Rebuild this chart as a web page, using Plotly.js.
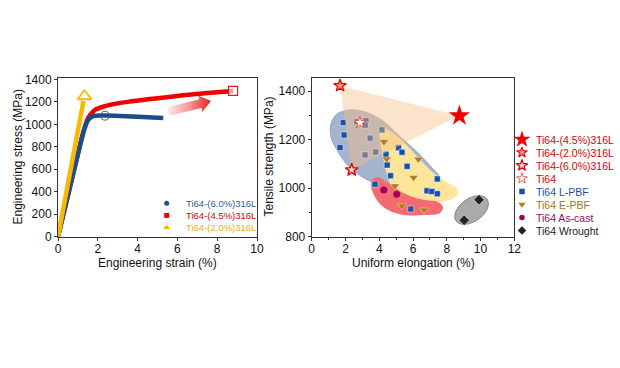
<!DOCTYPE html>
<html><head><meta charset="utf-8">
<script src="https://cdn.plot.ly/plotly-3.0.1.min.js"></script>
<style>html,body{margin:0;padding:0;background:#fff}#chart{width:620px;height:368px}</style>
</head><body><div id="chart"></div>
<script>
// ---------- Left panel: engineering stress-strain curves ----------
const strain60 = [0, 1.0, 1.2, 1.36, 1.52, 1.7, 1.86, 2.36, 2.86, 4.0, 5.29];
const stress60 = [0, 735, 875, 975, 1040, 1068, 1076, 1078, 1076, 1067, 1056];
const strain45 = [0, 1.0, 1.15, 1.3, 1.45, 1.6, 1.86, 2.36, 2.86, 3.5, 4.87, 6.55, 7.5, 8.8];
const stress45 = [0, 735, 850, 950, 1030, 1080, 1128, 1162, 1182, 1200, 1230, 1264, 1279, 1297];
const strain20 = [0, 1.28];
const stress20 = [0, 1208];
// uniform elongation end markers
const endStrain = [2.36, 8.8, 1.33];
const endStress = [1077, 1297, 1250];
const leftNames = ['Ti64-(6.0%)316L', 'Ti64-(4.5%)316L', 'Ti64-(2.0%)316L'];

// ---------- Right panel: tensile strength vs uniform elongation ----------
const lpbfX = [1.87, 1.92, 1.68, 2.67, 3.22, 3.18, 3.46, 3.16, 3.79, 4.16, 4.4, 4.47, 4.67, 5.14, 5.35, 5.65, 6.83, 7.12, 7.44, 7.44, 3.75, 5.87];
const lpbfY = [1270, 1219, 1167, 1274, 1278, 1260, 1206, 1137, 1149, 1240, 1140, 1095, 1051, 1166, 1148, 1090, 989, 986, 977, 1038, 1016, 914];
const ebpfX = [4.28, 4.44, 6.32, 6.03, 4.93, 5.14, 5.34, 6.65];
const ebpfY = [1191, 1120, 1119, 1044, 1009, 976, 927, 910];
const castX = [4.27, 5.04];
const castY = [992, 975];
const wroughtX = [9.91, 9.03];
const wroughtY = [952, 868];
const s45X = [8.75], s45Y = [1298];
const s20X = [1.68], s20Y = [1422];
const s60X = [2.37], s60Y = [1075];
const ti64X = [2.86], ti64Y = [1270];
const rightNames = ['Ti64-(4.5%)316L', 'Ti64-(2.0%)316L', 'Ti64-(6.0%)316L', 'Ti64', 'Ti64 L-PBF', 'Ti64 E-PBF', 'Ti64 As-cast', 'Ti64 Wrought'];

// shaded cluster outlines (data coordinates)
const blueRegX = [1.14, 1.50, 2.27, 3.16, 4.22, 5.23, 6.30, 7.13, 7.54, 7.36, 6.42, 4.94, 3.75, 2.86, 2.15, 1.56, 1.14];
const blueRegY = [1264, 1306, 1322, 1314, 1277, 1212, 1145, 1083, 1050, 1025, 1009, 1009, 1021, 1052, 1093, 1149, 1211];
const yelRegX = [4.05, 4.82, 5.53, 6.42, 7.25, 8.08, 8.61, 8.67, 8.31, 7.60, 6.71, 5.71, 4.99, 4.58, 4.28, 4.05];
const yelRegY = [1252, 1227, 1184, 1118, 1060, 1021, 997, 976, 955, 943, 938, 947, 976, 1029, 1108, 1198];
const redRegX = [3.57, 3.93, 4.34, 4.94, 5.82, 6.71, 7.48, 7.78, 7.60, 6.71, 5.53, 4.64, 4.05, 3.69, 3.51];
const redRegY = [1034, 1046, 1029, 1001, 968, 951, 943, 922, 898, 889, 889, 906, 935, 972, 1009];

// ---------- geometry helpers ----------
const W = 620, H = 368;
const LP = {x0: 58, x1: 257, y0: 236.7, y1: 77.7, xr: [0, 10], yr: [0, 1415]};
const RP = {x0: 311.7, x1: 514.3, y0: 236.7, y1: 77.7, xr: [0, 12], yr: [800, 1455]};
function toData(P, px, py) {
  return [P.xr[0] + (px - P.x0) / (P.x1 - P.x0) * (P.xr[1] - P.xr[0]),
          P.yr[0] + (P.y0 - py) / (P.y0 - P.y1) * (P.yr[1] - P.yr[0])];
}
function toPx(P, x, y) {
  return [P.x0 + (x - P.xr[0]) / (P.xr[1] - P.xr[0]) * (P.x1 - P.x0),
          P.y0 - (y - P.yr[0]) / (P.yr[1] - P.yr[0]) * (P.y0 - P.y1)];
}
function closeArr(a) { return a.concat([a[0]]); }

// gradient arrow (pixel geometry in left panel)
function arrowPts() {
  const T = [168.5, 111.5], P = [211, 101];
  const dx = P[0] - T[0], dy = P[1] - T[1], len = Math.hypot(dx, dy);
  const u = [dx / len, dy / len], n = [-u[1], u[0]];
  const w = 4.5, h = 8.5, hl = 11;
  const pts = [
    [T[0] - n[0] * w, T[1] - n[1] * w],
    [T[0] + u[0] * (len - hl) - n[0] * w, T[1] + u[1] * (len - hl) - n[1] * w],
    [T[0] + u[0] * (len - hl) - n[0] * h, T[1] + u[1] * (len - hl) - n[1] * h],
    P,
    [T[0] + u[0] * (len - hl) + n[0] * h, T[1] + u[1] * (len - hl) + n[1] * h],
    [T[0] + u[0] * (len - hl) + n[0] * w, T[1] + u[1] * (len - hl) + n[1] * w],
    [T[0] + n[0] * w, T[1] + n[1] * w],
    [T[0] - n[0] * w, T[1] - n[1] * w]
  ].map(p => toData(LP, p[0], p[1]));
  return {x: pts.map(p => p[0]), y: pts.map(p => p[1])};
}
// wrought ellipse around the two wrought points
function ellipsePts() {
  const c = toPx(RP, (wroughtX[0] + wroughtX[1]) / 2, (wroughtY[0] + wroughtY[1]) / 2);
  const a = 19, b = 11.5, th = 35 * Math.PI / 180;
  const xs = [], ys = [];
  for (let i = 0; i <= 60; i++) {
    const t = i / 60 * 2 * Math.PI;
    const ux = a * Math.cos(t), uy = b * Math.sin(t);
    const px = c[0] + ux * Math.cos(th) + uy * Math.sin(th);
    const py = c[1] - ux * Math.sin(th) + uy * Math.cos(th);
    const d = toData(RP, px, py);
    xs.push(d[0]); ys.push(d[1]);
  }
  return {x: xs, y: ys};
}

const cBlue = 'rgb(30,80,140)', cRed = 'rgb(240,0,0)', cYel = 'rgb(250,185,0)';
const traces = [];
// left panel
traces.push({x: strain45, y: stress45, xaxis: 'x', yaxis: 'y', mode: 'lines', line: {color: cRed, width: 4.5, shape: 'spline'}});
traces.push({x: strain60, y: stress60, xaxis: 'x', yaxis: 'y', mode: 'lines', line: {color: 'rgb(28,78,138)', width: 4.5, shape: 'spline'}});
traces.push({x: strain20, y: stress20, xaxis: 'x', yaxis: 'y', mode: 'lines', line: {color: cYel, width: 4.5}});
traces.push({x: [endStrain[0]], y: [endStress[0]], xaxis: 'x', yaxis: 'y', mode: 'markers', marker: {symbol: 'circle-open', size: 9, color: 'rgb(60,90,130)', line: {width: 1}}});
traces.push({x: [endStrain[1]], y: [endStress[1]], xaxis: 'x', yaxis: 'y', mode: 'markers', marker: {symbol: 'square', size: 9, color: 'rgba(255,255,255,0.6)', line: {width: 1.2, color: 'rgb(220,30,30)'}}});
traces.push({x: [endStrain[2]], y: [endStress[2]], xaxis: 'x', yaxis: 'y', mode: 'markers', marker: {symbol: 'triangle-up', size: 12, color: 'white', line: {width: 1.8, color: cYel}}});
const ar = arrowPts();
traces.push({x: ar.x, y: ar.y, xaxis: 'x', yaxis: 'y', mode: 'lines', line: {width: 0}, fill: 'toself',
  fillgradient: {type: 'horizontal', colorscale: [[0, 'rgb(253,236,236)'], [0.5, 'rgb(246,150,150)'], [1, 'rgb(235,30,30)']]}});

// right panel regions
traces.push({x: closeArr(blueRegX), y: closeArr(blueRegY), xaxis: 'x2', yaxis: 'y2', mode: 'lines', line: {width: 0.8, color: 'rgb(140,158,192)', shape: 'spline'}, fill: 'toself', fillcolor: 'rgb(164,179,206)'});
traces.push({x: closeArr(yelRegX), y: closeArr(yelRegY), xaxis: 'x2', yaxis: 'y2', mode: 'lines', line: {width: 0, shape: 'spline'}, fill: 'toself', fillcolor: 'rgb(254,229,153)'});
traces.push({x: closeArr(redRegX), y: closeArr(redRegY), xaxis: 'x2', yaxis: 'y2', mode: 'lines', line: {width: 0, shape: 'spline'}, fill: 'toself', fillcolor: 'rgb(243,106,112)'});
const el = ellipsePts();
traces.push({x: el.x, y: el.y, xaxis: 'x2', yaxis: 'y2', mode: 'lines', line: {width: 1, color: 'rgb(135,135,135)'}, fill: 'toself', fillcolor: 'rgb(170,170,170)'});
// L-PBF squares
traces.push({x: lpbfX, y: lpbfY, xaxis: 'x2', yaxis: 'y2', mode: 'markers', marker: {symbol: 'square', size: 6, color: 'rgb(25,80,175)', line: {width: 0.6, color: 'rgba(255,255,255,0.8)'}}});
// triangle spanned by the three composite stars
traces.push({x: [s20X[0], s45X[0], s60X[0], s20X[0]], y: [s20Y[0], s45Y[0], s60Y[0], s20Y[0]], xaxis: 'x2', yaxis: 'y2', mode: 'lines', line: {width: 0}, fill: 'toself', fillcolor: 'rgba(248,188,132,0.42)'});
traces.push({x: ebpfX, y: ebpfY, xaxis: 'x2', yaxis: 'y2', mode: 'markers', marker: {symbol: 'triangle-down', size: 8, color: 'rgb(178,124,30)', line: {width: 0.5, color: 'rgba(255,255,255,0.7)'}}});
traces.push({x: castX, y: castY, xaxis: 'x2', yaxis: 'y2', mode: 'markers', marker: {symbol: 'circle', size: 7, color: 'rgb(165,0,90)'}});
traces.push({x: wroughtX, y: wroughtY, xaxis: 'x2', yaxis: 'y2', mode: 'markers', marker: {symbol: 'diamond', size: 8, color: 'rgb(35,35,35)', line: {width: 0.6, color: 'rgba(255,255,255,0.8)'}}});
const starTi64 = {symbol: 'star', size: 9, color: 'white', line: {width: 1, color: 'rgb(235,85,55)'}};
const star60 = {symbol: 'star', size: 9.5, color: 'rgb(255,235,235)', line: {width: 1.4, color: 'rgb(235,0,0)'}};
const star20 = {symbol: 'star', size: 9.5, color: 'rgb(255,150,150)', line: {width: 1.3, color: 'rgb(235,0,0)'}};
const star45 = {symbol: 'star', size: 16, color: 'rgb(240,0,0)', line: {width: 0}};
traces.push({x: ti64X, y: ti64Y, xaxis: 'x2', yaxis: 'y2', mode: 'markers', marker: starTi64});
traces.push({x: s60X, y: s60Y, xaxis: 'x2', yaxis: 'y2', mode: 'markers', marker: star60});
traces.push({x: s20X, y: s20Y, xaxis: 'x2', yaxis: 'y2', mode: 'markers', marker: star20});
traces.push({x: s45X, y: s45Y, xaxis: 'x2', yaxis: 'y2', mode: 'markers', marker: star45});

// ---------- hand-placed legends on a pixel overlay axis ----------
const annotations = [];
const fam = 'Liberation Sans, Arial, sans-serif';
const leftLeg = {sx: 166.7, tx: 184, y0: 203.3, dy: 12.1, fs: 9.5};
const leftSym = [{symbol: 'circle', size: 5, color: cBlue}, {symbol: 'square', size: 5, color: cRed}, {symbol: 'triangle-up', size: 6, color: cYel}];
const leftCol = ['rgb(45,90,150)', 'rgb(220,0,0)', 'rgb(240,175,0)'];
leftNames.forEach((nm, i) => {
  const y = leftLeg.y0 + i * leftLeg.dy;
  traces.push({x: [leftLeg.sx], y: [y], xaxis: 'x3', yaxis: 'y3', mode: 'markers', marker: leftSym[i]});
  annotations.push({xref: 'x3', yref: 'y3', x: leftLeg.tx, y: y, text: nm, showarrow: false, xanchor: 'left', yanchor: 'middle', font: {family: fam, size: leftLeg.fs, color: leftCol[i]}});
});
const rightLeg = {sx: 522, tx: 533.5, y0: 139.5, dy: 13, fs: 10.5};
const rightSym = [Object.assign({}, star45, {size: 13}), Object.assign({}, star20, {size: 8, line: {width: 1.1, color: 'rgb(235,0,0)'}}), Object.assign({}, star60, {size: 8.5, line: {width: 1.3, color: 'rgb(235,0,0)'}}), Object.assign({}, starTi64, {size: 8, line: {width: 0.8, color: 'rgb(225,60,60)'}}),
  {symbol: 'square', size: 5.5, color: 'rgb(25,80,175)'}, {symbol: 'triangle-down', size: 6.5, color: 'rgb(178,124,30)'},
  {symbol: 'circle', size: 5.5, color: 'rgb(165,0,90)'}, {symbol: 'diamond', size: 6.5, color: 'rgb(35,35,35)'}];
const rightCol = ['rgb(220,0,0)', 'rgb(220,0,0)', 'rgb(220,0,0)', 'rgb(220,0,0)', 'rgb(30,80,165)', 'rgb(165,115,20)', 'rgb(150,10,100)', 'rgb(25,25,25)'];
rightNames.forEach((nm, i) => {
  const y = rightLeg.y0 + i * rightLeg.dy;
  traces.push({x: [rightLeg.sx], y: [y], xaxis: 'x3', yaxis: 'y3', mode: 'markers', marker: rightSym[i]});
  annotations.push({xref: 'x3', yref: 'y3', x: rightLeg.tx, y: y, text: nm, showarrow: false, xanchor: 'left', yanchor: 'middle', font: {family: fam, size: rightLeg.fs, color: rightCol[i]}});
});
// axis titles
const titleFont = {family: fam, size: 12, color: '#111'};
annotations.push({xref: 'x3', yref: 'y3', x: 157.5, y: 262.5, text: 'Engineering strain (%)', showarrow: false, xanchor: 'center', yanchor: 'middle', font: titleFont});
annotations.push({xref: 'x3', yref: 'y3', x: 17.5, y: 157, text: 'Engineering stress (MPa)', textangle: -90, showarrow: false, xanchor: 'center', yanchor: 'middle', font: titleFont});
annotations.push({xref: 'x3', yref: 'y3', x: 413, y: 263, text: 'Uniform elongation (%)', showarrow: false, xanchor: 'center', yanchor: 'middle', font: titleFont});
annotations.push({xref: 'x3', yref: 'y3', x: 268.5, y: 157, text: 'Tensile strength (MPa)', textangle: -90, showarrow: false, xanchor: 'center', yanchor: 'middle', font: titleFont});

const axBase = {showline: true, mirror: true, linecolor: '#333', linewidth: 1, ticks: 'outside', ticklen: 3, tickcolor: '#333',
  showgrid: false, zeroline: false, tickfont: {family: fam, size: 12, color: '#111'}, fixedrange: true};
const layout = {
  width: W, height: H, margin: {l: 0, r: 0, t: 0, b: 0}, paper_bgcolor: 'white', plot_bgcolor: 'rgba(0,0,0,0)',
  showlegend: false, font: {family: fam, size: 12, color: '#111'},
  xaxis: Object.assign({}, axBase, {domain: [LP.x0 / W, LP.x1 / W], range: LP.xr, dtick: 2, anchor: 'y', ticklabelstandoff: -2}),
  yaxis: Object.assign({}, axBase, {domain: [1 - LP.y0 / H, 1 - LP.y1 / H], range: LP.yr, dtick: 200, anchor: 'x'}),
  xaxis2: Object.assign({}, axBase, {domain: [RP.x0 / W, RP.x1 / W], range: RP.xr, dtick: 2, anchor: 'y2', ticklabelstandoff: -2, minor: {dtick: 1, ticks: 'outside', ticklen: 2, tickcolor: '#333'}}),
  yaxis2: Object.assign({}, axBase, {domain: [1 - RP.y0 / H, 1 - RP.y1 / H], range: RP.yr, tick0: 800, dtick: 200, anchor: 'x2', minor: {dtick: 100, ticks: 'outside', ticklen: 2, tickcolor: '#333'}}),
  xaxis3: {domain: [0, 1], range: [0, W], visible: false, fixedrange: true, anchor: 'y3'},
  yaxis3: {domain: [0, 1], range: [H, 0], visible: false, fixedrange: true, anchor: 'x3'},
  annotations: annotations
};
traces.forEach(t => { t.hoverinfo = 'skip'; t.showlegend = false; if (t.xaxis === 'x3') t.cliponaxis = false; });
Plotly.newPlot('chart', traces, layout, {staticPlot: true, displayModeBar: false});
</script></body></html>
